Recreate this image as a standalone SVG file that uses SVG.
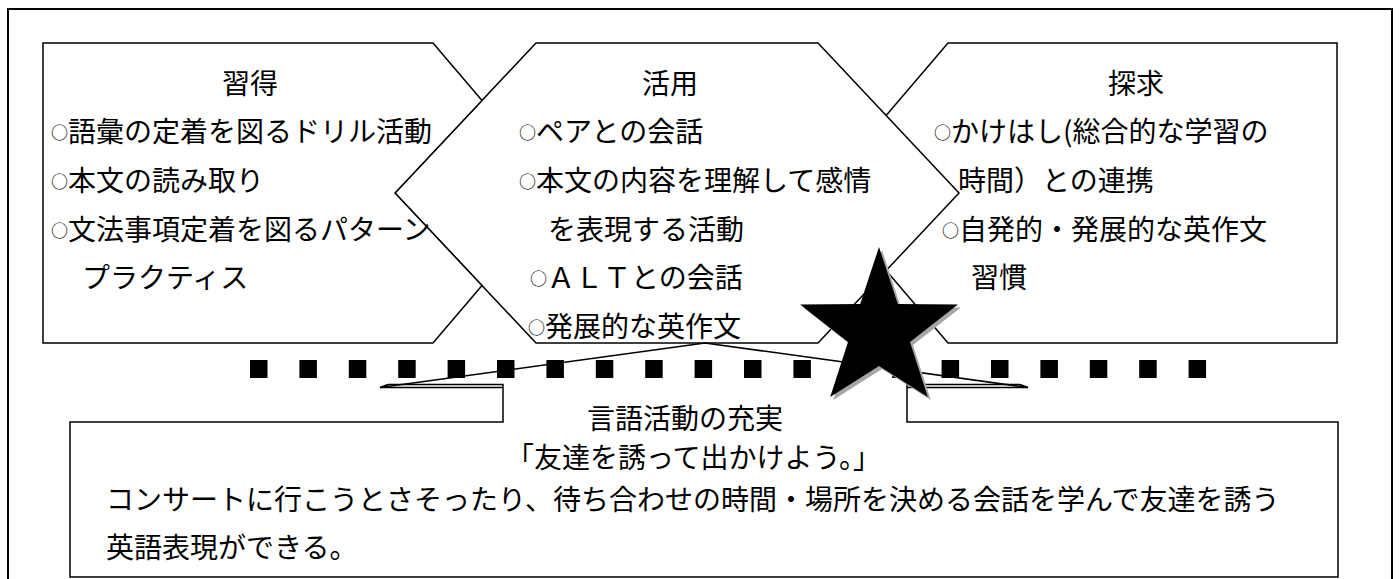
<svg xmlns="http://www.w3.org/2000/svg" width="1400" height="579" viewBox="0 0 1400 579">
<style>
.t{font-family:"Noto Sans CJK JP","Noto Sans CJK SC",sans-serif;font-size:28px;fill:#000}
.o{font-size:17px}
.s{fill:#fff;stroke:#000;stroke-width:1.5;stroke-linejoin:miter}
.ln{fill:none;stroke:#000;stroke-width:1.5}
.sq{fill:#000}
</style>
<rect width="1400" height="579" fill="#fff"/>
<rect x="8" y="9" width="1384" height="600" fill="none" stroke="#000" stroke-width="2"/>

<g id="node-tankyu">
<polygon class="s" points="948,43 1337,43 1337,343 948,343 820,193"/>
<text class="t" x="1108" y="94">探求</text>
<text class="t" x="934" y="142"><tspan class="o" dy="-3">○</tspan><tspan dy="3">かけはし(総合的な学習の</tspan></text>
<text class="t" x="958" y="191">時間）との連携</text>
<text class="t" x="942" y="240"><tspan class="o" dy="-3">○</tspan><tspan dy="3">自発的・発展的な英作文</tspan></text>
<text class="t" x="971" y="288">習慣</text>
</g>

<g id="node-katsuyo">
<polygon class="s" points="536,43 818,43 959,193 818,343 536,343 395,193"/>
<text class="t" x="642" y="94">活用</text>
<text class="t" x="519" y="142"><tspan class="o" dy="-3">○</tspan><tspan dy="3">ペアとの会話</tspan></text>
<text class="t" x="519" y="191"><tspan class="o" dy="-3">○</tspan><tspan dy="3">本文の内容を理解して感情</tspan></text>
<text class="t" x="548" y="240">を表現する活動</text>
<text class="t" x="530" y="288"><tspan class="o" dy="-3">○</tspan><tspan dy="3">ＡＬＴとの会話</tspan></text>
<text class="t" x="528" y="337"><tspan class="o" dy="-3">○</tspan><tspan dy="3">発展的な英作文</tspan></text>
</g>

<g id="node-shutoku">
<polygon class="s" points="43,43 433,43 482,100.4 395,193 482,285.6 433,343 43,343"/>
<text class="t" x="222" y="94">習得</text>
<text class="t" x="51" y="142"><tspan class="o" dy="-3">○</tspan><tspan dy="3">語彙の定着を図るドリル活動</tspan></text>
<text class="t" x="51" y="191"><tspan class="o" dy="-3">○</tspan><tspan dy="3">本文の読み取り</tspan></text>
<text class="t" x="51" y="240"><tspan class="o" dy="-3">○</tspan><tspan dy="3">文法事項定着を図るパターン</tspan></text>
<text class="t" x="82" y="288">プラクティス</text>
</g>

<g id="separator">
<rect class="sq" x="250" y="360" width="17.5" height="18"/>
<rect class="sq" x="299.4" y="360" width="17.5" height="18"/>
<rect class="sq" x="348.8" y="360" width="17.5" height="18"/>
<rect class="sq" x="398.2" y="360" width="17.5" height="18"/>
<rect class="sq" x="447.6" y="360" width="17.5" height="18"/>
<rect class="sq" x="497" y="360" width="17.5" height="18"/>
<rect class="sq" x="546.4" y="360" width="17.5" height="18"/>
<rect class="sq" x="595.8" y="360" width="17.5" height="18"/>
<rect class="sq" x="645.2" y="360" width="17.5" height="18"/>
<rect class="sq" x="694.6" y="360" width="17.5" height="18"/>
<rect class="sq" x="744" y="360" width="17.5" height="18"/>
<rect class="sq" x="793.4" y="360" width="17.5" height="18"/>
<rect class="sq" x="842.8" y="360" width="17.5" height="18"/>
<rect class="sq" x="892.2" y="360" width="17.5" height="18"/>
<rect class="sq" x="941.6" y="360" width="17.5" height="18"/>
<rect class="sq" x="991" y="360" width="17.5" height="18"/>
<rect class="sq" x="1040.4" y="360" width="17.5" height="18"/>
<rect class="sq" x="1089.8" y="360" width="17.5" height="18"/>
<rect class="sq" x="1139.2" y="360" width="17.5" height="18"/>
<rect class="sq" x="1188.6" y="360" width="17.5" height="18"/>
</g>

<g id="node-gengo">
<path class="ln" d="M388,384.5 H503 V422 H70 V577 H1338 V422 H907 V384.5 H1020"/>
<path class="ln" d="M380,387.5 H503 M907,387.5 H1028"/>
<text class="t" x="587" y="429">言語活動の充実</text>
<text class="t" x="506" y="468">「友達を誘って出かけよう。」</text>
<text class="t" x="106" y="510">コンサートに行こうとさそったり、待ち合わせの時間・場所を決める会話を学んで友達を誘う</text>
<text class="t" x="106" y="558">英語表現ができる。</text>
</g>

<g id="connectors">
<path class="ln" d="M388,384.5 L380,387.5 L705,343 L1028,387.5 L1020,384.5"/>
</g>

<g id="star">
<polygon fill="#a6a6a6" transform="translate(3,3)" points="879,247 897.8,304.1 957.9,304.4 910,342 927.8,397.1 879,366 830.2,397.1 848,342 800.1,304.4 860.2,304.1"/>
<polygon fill="#000" points="879,247 897.8,304.1 957.9,304.4 910,342 927.8,397.1 879,366 830.2,397.1 848,342 800.1,304.4 860.2,304.1"/>
</g>
</svg>
